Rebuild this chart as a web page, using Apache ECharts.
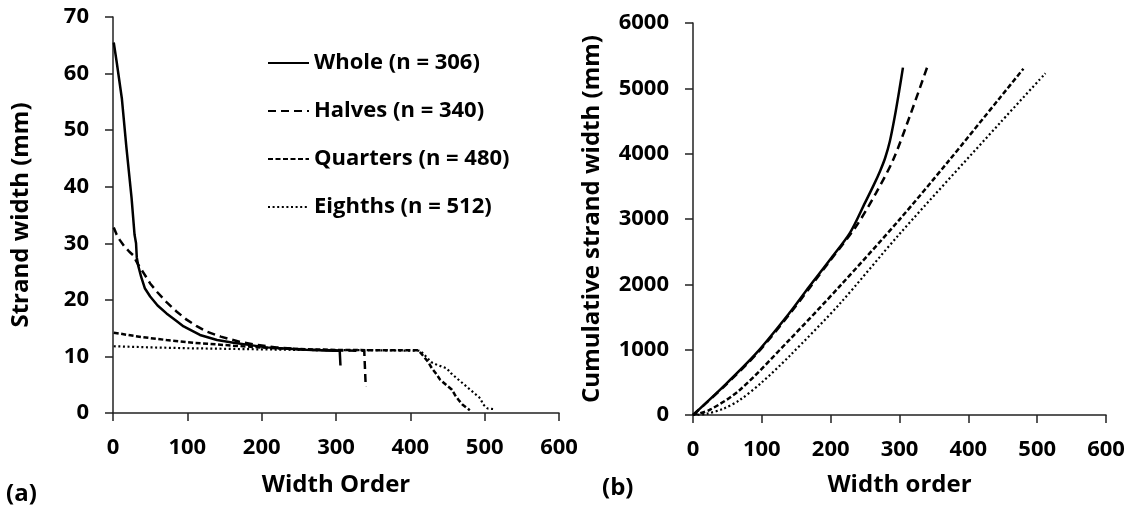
<!DOCTYPE html>
<html lang="en">
<head>
<meta charset="UTF-8">
<title>Strand width</title>
<script src="https://cdn.jsdelivr.net/npm/echarts@6/dist/echarts.min.js"></script>
</head>
<body style="margin:0;padding:0;background:#fff">
<div id="main" style="width:1131px;height:516px"></div>
<script>
// (a) strand width by width order
let wholeWidth = [[1,65.5],[5,62],[12,55.5],[18,47],[25,38],[29,31.5],[31,30],[32,27.5],[34,26],[38,24],[43,22],[50,20.6],[60,19],[72,17.6],[85,16.3],[95,15.3],[117,13.8],[140,12.9],[162,12.4],[185,12],[206,11.6],[230,11.4],[260,11.2],[296,11],[305,11],[306,8.4]];
let halvesWidth = [[1,32.8],[5,31.5],[9,30.6],[15,29.5],[22,28.5],[27,27.9],[34,26.2],[40,25],[50,22.9],[60,21.3],[72,19.6],[85,18],[99,16.5],[112,15.4],[126,14.4],[145,13.5],[170,12.6],[195,12],[220,11.6],[260,11.2],[300,11.05],[338,11],[340,4.6]];
let quartersWidth = [[1,14.2],[20,13.8],[40,13.4],[72,12.9],[110,12.4],[162,11.9],[210,11.5],[251,11.3],[300,11.15],[350,11.1],[409,11.1],[412,10.9],[418,10],[424,9],[429,7.9],[435,6.9],[440,5.9],[448,5],[456,4.1],[460,3.2],[465,2.3],[470,1.5],[476,0.9],[480,0.5]];
let eighthsWidth = [[1,11.8],[50,11.6],[100,11.45],[150,11.35],[200,11.25],[250,11.15],[300,11.1],[350,11.1],[412,11],[415,10.8],[421,10],[428,9],[436,8.5],[449,7.9],[455,7],[462,6.2],[470,5.3],[478,4.4],[486,3.5],[494,2.6],[498,1.5],[504,0.8],[512,0.7]];

// (b) cumulative strand width
let wholeCum = [[0,0],[44,434],[92,946],[140,1560],[169,1968],[199,2377],[228,2787],[250,3250],[263,3530],[272,3740],[279,3930],[286,4190],[293,4560],[300,4990],[305,5317]];
let halvesCum = [[0,0],[44,425],[92,930],[140,1540],[199,2360],[237,2888],[266,3400],[291,3911],[315,4575],[340,5317]];
let quartersCum = [[0,0],[24,77],[68,383],[140,1150],[213,1968],[300,2991],[370,3870],[446,4857],[480,5300]];
let eighthsCum = [[0,0],[20,20],[44,95],[68,230],[100,500],[140,900],[213,1700],[300,2770],[446,4470],[512,5230]];

let names = ['Whole (n = 306)', 'Halves (n = 340)', 'Quarters (n = 480)', 'Eighths (n = 512)'];
let dashes = ['solid', [8,5], [5,2.5], [2,2.6]];
let widths = [2.5, 2.5, 2.5, 2.2];

const FONT = 'Open Sans';
var chart = echarts.init(document.getElementById('main'));

function axisBase(){
  return {
    axisLine: {show:true, onZero:false, lineStyle:{color:'#222', width:1.5}},
    axisTick: {show:true, inside:false, length:8, lineStyle:{color:'#222', width:1.5}},
    axisLabel: {color:'#000', fontFamily:FONT, fontWeight:'bold', fontSize:22, margin:24,
      formatter: function(v){ return String(v); }},
    splitLine: {show:false},
    nameTextStyle: {color:'#000', fontFamily:FONT, fontWeight:'bold', fontSize:24}
  };
}

function mk(name, data, i, xi){
  return {
    name: name, type:'line', xAxisIndex:xi, yAxisIndex:xi,
    data: data, symbol:'none', smooth: xi===1 ? 0.3 : false,
    lineStyle:{color:'#000', width:widths[i], type:dashes[i], cap:'butt'},
    itemStyle:{color:'#000'},
    animation:false
  };
}

var option = {
  backgroundColor:'#fff',
  animation:false,
  grid: [
    {left:113, top:17, width:446, height:396},
    {left:693, top:23, width:413, height:392}
  ],
  xAxis: [
    Object.assign(axisBase(), {type:'value', gridIndex:0, min:0, max:600, interval:100, name:'Width Order', nameLocation:'middle', nameGap:60}),
    Object.assign(axisBase(), {type:'value', gridIndex:1, min:0, max:600, interval:100, name:'Width order', nameLocation:'middle', nameGap:58})
  ],
  yAxis: [
    Object.assign(axisBase(), {type:'value', gridIndex:0, min:0, max:70, interval:10, name:'Strand width (mm)', nameLocation:'middle', nameGap:80}),
    Object.assign(axisBase(), {type:'value', gridIndex:1, min:0, max:6000, interval:1000, name:'Cumulative strand width (mm)', nameLocation:'middle', nameGap:89})
  ],
  legend: {
    data: names, orient:'vertical', left:262, top:45,
    itemWidth:41, itemHeight:14, itemGap:22,
    itemStyle:{opacity:0},
    textStyle:{color:'#000', fontFamily:FONT, fontWeight:'bold', fontSize:22, lineHeight:26},
    selectedMode:false
  },
  graphic: [
    {type:'text', left:6, top:482, style:{text:'(a)', fill:'#000', font:'bold 24px "Open Sans"'}},
    {type:'text', left:602, top:476, style:{text:'(b)', fill:'#000', font:'bold 24px "Open Sans"'}}
  ],
  series: [
    mk(names[0], wholeWidth, 0, 0),
    mk(names[1], halvesWidth, 1, 0),
    mk(names[2], quartersWidth, 2, 0),
    mk(names[3], eighthsWidth, 3, 0),
    mk(names[0], wholeCum, 0, 1),
    mk(names[1], halvesCum, 1, 1),
    mk(names[2], quartersCum, 2, 1),
    mk(names[3], eighthsCum, 3, 1)
  ]
};
chart.setOption(option);
</script>
</body>
</html>
